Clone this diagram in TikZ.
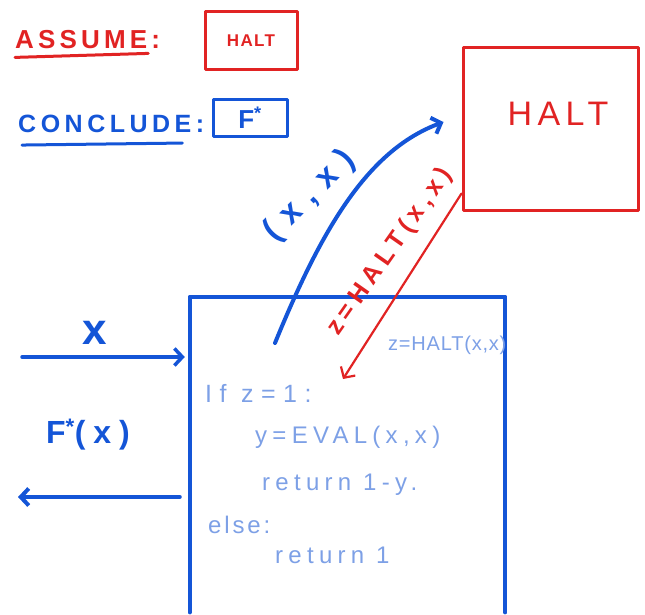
\documentclass[tikz,border=0pt]{standalone}
\usepackage{fontspec}
\setmainfont{Liberation Sans}
\usetikzlibrary{arrows.meta}

\definecolor{penred}{RGB}{225,35,35}
\definecolor{penblue}{RGB}{20,85,215}
\definecolor{penlight}{RGB}{125,160,230}
\newcommand{\handfont}[2]{\fontsize{#1}{#1}\selectfont\addfontfeature{LetterSpace=#2}}

\begin{document}
\begin{tikzpicture}
  [x=1pt,y=-1pt,line cap=round,line join=round,
   every node/.style={inner sep=0pt},
   redpen/.style={draw=penred,line width=3pt},
   bluepen/.style={draw=penblue,line width=4pt},
   hook/.style={-{Straight Barb[length=8pt,width=17pt]}},
   codeline/.style={text=penlight,anchor=west,font=\handfont{24}{22}}]
  \useasboundingbox (0,0) rectangle (645,615);
  % assume / conclude
  \node[text=penred,anchor=west,font=\bfseries\handfont{26}{16}] (assume) at (15,40) {ASSUME:};
  \draw[redpen] ([yshift=-8pt]assume.south west) -- ([shift={(-12pt,-4pt)}]assume.south east);
  \node[redpen,text=penred,minimum width=92pt,minimum height=58pt,font=\bfseries\handfont{17}{8}] (haltsmall) at (251,41) {HALT};
  \node[text=penblue,anchor=west,font=\bfseries\handfont{25}{18}] (conclude) at (18,124) {CONCLUDE:};
  \draw[bluepen,line width=3pt] ([shift={(4pt,-12pt)}]conclude.south west) -- ([shift={(-22pt,-10pt)}]conclude.south east);
  \node[bluepen,line width=3pt,text=penblue,minimum width=74pt,minimum height=37pt,font=\bfseries\handfont{26}{5}] (fstarbox) at (250,118) {F\textsuperscript{*}};
  % HALT machine
  \node[redpen,minimum width=175pt,minimum height=162pt] (halt) at (550.5,129) {};
  \node[text=penred,font=\handfont{34}{16}] (halttext) at (558,114) {HALT};
  % F* program
  \node[minimum width=315pt,minimum height=315pt] (prog) at (347.5,454.5) {};
  \draw[bluepen,line width=4.5pt] (prog.south west) |- (prog.north east) -- (prog.south east);
  \node[codeline,font=\handfont{20}{4}] (zline) at (388,345) {z=HALT(x,x)};
  \node[codeline,font=\handfont{25}{30}] (ifline) at (205,393) {If z=1:};
  \node[codeline] (yline) at (255,437) {y=EVAL(x,x)};
  \node[codeline] (retline) at (262,485) {return 1-y.};
  \node[codeline,font=\handfont{24}{12}] (elseline) at (208,525) {else:};
  \node[codeline] (retone) at (275,555) {return 1};
  % input and output
  \coordinate (xin) at (22,357);
  \draw[bluepen,line width=3.5pt,hook] (xin) -- ([xshift=-5pt]prog.west |- xin);
  \node[text=penblue,font=\bfseries\handfont{44}{0}] (xlabel) at (95,333) {x};
  \node[text=penblue,font=\bfseries\handfont{32}{25}] (fx) at (88,435) {F\textsuperscript{*}(x)};
  \coordinate (fout) at (18,497);
  \draw[bluepen,hook] ([xshift=-10pt]prog.west |- fout) -- (fout);
  % call and return
  \coordinate (call) at (275,343);
  \draw[bluepen,hook] (call) .. controls (322,228) and (368,150) .. ([shift={(-18pt,7pt)}]halt.west);
  \node[text=penblue,rotate=45,font=\bfseries\handfont{33}{35}] (pair) at (310,196) {(x,x)};
  \coordinate (zret) at (343,379);
  \draw[redpen,line width=2.2pt,hook] ([yshift=18pt]halt.south west) -- (zret);
  \node[text=penred,rotate=55,font=\bfseries\handfont{25}{22}] (zlabel) at (390,252) {z=HALT(x,x)};
\end{tikzpicture}
\end{document}
